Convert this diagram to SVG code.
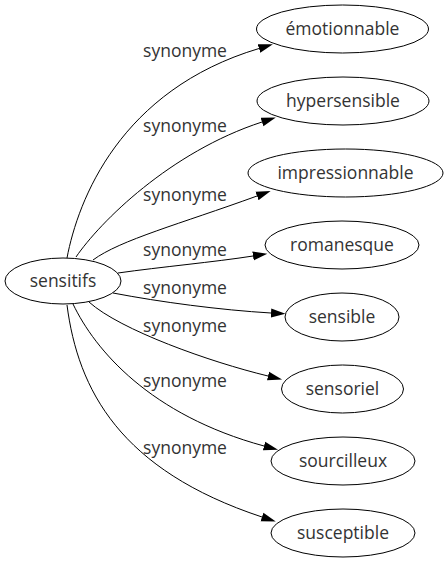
<svg xmlns="http://www.w3.org/2000/svg" width="447" height="563" viewBox="0 0 447 563">
<defs>
<marker id="arr" markerUnits="userSpaceOnUse" markerWidth="15" markerHeight="10" refX="0" refY="5" orient="auto">
<path d="M0,0.5 L14.5,5 L0,9.5 z" fill="#000"/>
</marker>
<style>
.n ellipse{fill:#fff;stroke:#000;stroke-width:1}
text{font-family:"Open Sans","DejaVu Sans",sans-serif;font-size:17.5px;fill:#333;text-anchor:middle}
.e path{fill:none;stroke:#000;stroke-width:1;marker-end:url(#arr)}
</style>
</defs>
<rect width="447" height="563" fill="#fff"/>
<g class="e" id="edges">
<path d="M67,258 C78,200 120,90 259,48.5"/>
<path d="M76,257 C100,222 170,152 262,122"/>
<path d="M93,260 C120,240 180,224 257,196"/>
<path d="M118,273 C160,267 215,262 253,256"/>
<path d="M113,293 C160,302 220,310 271,313"/>
<path d="M89,302 C120,330 210,362 268,376"/>
<path d="M73,304 C95,350 150,415 264,446"/>
<path d="M67,305 C78,390 120,470 262,517"/>
</g>
<g id="labels">
<text x="185" y="57">synonyme</text>
<text x="185" y="132">synonyme</text>
<text x="185" y="201">synonyme</text>
<text x="185" y="256">synonyme</text>
<text x="185" y="294">synonyme</text>
<text x="185" y="332">synonyme</text>
<text x="185" y="387">synonyme</text>
<text x="185" y="454">synonyme</text>
</g>
<g class="n" id="sensitifs"><ellipse cx="63" cy="281" rx="58" ry="23"/><text x="63" y="287">sensitifs</text></g>
<g class="n" id="emotionnable"><ellipse cx="342.5" cy="29" rx="86" ry="24"/><text x="342.5" y="35">émotionnable</text></g>
<g class="n" id="hypersensible"><ellipse cx="343" cy="101" rx="86" ry="24"/><text x="343" y="107">hypersensible</text></g>
<g class="n" id="impressionnable"><ellipse cx="345.5" cy="173" rx="97.5" ry="24"/><text x="345.5" y="179">impressionnable</text></g>
<g class="n" id="romanesque"><ellipse cx="342" cy="245" rx="77" ry="24"/><text x="342" y="251">romanesque</text></g>
<g class="n" id="sensible"><ellipse cx="342" cy="317" rx="57" ry="24"/><text x="342" y="323">sensible</text></g>
<g class="n" id="sensoriel"><ellipse cx="342.5" cy="389" rx="61" ry="24"/><text x="342.5" y="395">sensoriel</text></g>
<g class="n" id="sourcilleux"><ellipse cx="343" cy="461" rx="72" ry="24"/><text x="343" y="467">sourcilleux</text></g>
<g class="n" id="susceptible"><ellipse cx="343" cy="533" rx="72" ry="24"/><text x="343" y="539">susceptible</text></g>
</svg>
